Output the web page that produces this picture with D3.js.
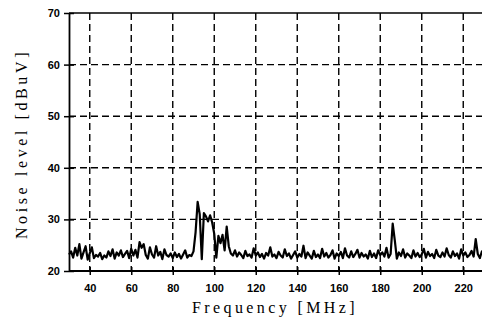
<!DOCTYPE html>
<html>
<head>
<meta charset="utf-8">
<script src="https://cdn.jsdelivr.net/npm/d3@7"></script>
<style>
  html, body { margin: 0; padding: 0; background: #fff; }
  svg { display: block; }
</style>
</head>
<body>
<svg id="chart" width="482" height="323"></svg>
<script>
// spectrum trace, one sample per MHz starting at 30 MHz
const startMHz = 30;
const stepMHz = 1;
const noiseLevel = [
  23.2, 23.8, 22.6, 24.5, 23.0, 25.2, 22.4, 23.6, 24.8, 22.2,
  23.4, 24.6, 22.5, 23.1, 22.8, 23.5, 22.3, 23.0, 22.6, 23.8,
  22.9, 24.2, 22.4, 23.6, 23.0, 24.0, 22.7, 23.3, 23.9, 22.5,
  24.3, 23.0, 24.1, 22.6, 25.6, 24.5, 25.2, 23.1, 22.4, 24.6,
  23.2, 22.6, 24.8, 23.0, 23.7, 22.3, 24.2, 23.1, 22.8, 23.4,
  22.5, 23.6, 22.7, 23.3, 22.4, 23.2, 24.0, 22.6, 23.1, 22.9,
  23.8, 27.5, 33.4, 31.0, 22.3, 31.2, 30.6, 29.6, 30.8, 29.4,
  27.2, 22.6, 26.8, 25.4, 27.0, 24.0, 28.6, 24.8, 23.4, 23.0,
  24.0, 22.8, 23.6, 23.1, 22.5, 23.9, 22.9, 23.2, 22.6, 24.4,
  23.0, 23.6, 22.7, 23.3, 22.4, 23.5, 23.0, 24.6, 22.8, 23.2,
  22.5, 23.7, 23.0, 22.6, 24.2, 22.9, 23.4, 22.4, 23.1, 23.8,
  22.6, 23.3, 22.8, 24.9, 22.5, 23.6, 23.0, 22.4, 23.9, 22.7,
  23.2, 22.5, 24.3, 22.8, 23.5, 22.6, 23.1, 24.0, 22.4, 23.4,
  22.9, 23.7, 22.5, 24.4, 23.0, 22.6, 23.8, 22.7, 23.3, 24.1,
  22.6, 23.5, 22.8, 23.2, 22.4, 23.9, 22.7, 23.4, 22.5, 24.0,
  23.1, 23.6, 22.8, 24.5, 22.6, 23.3, 29.2, 26.0, 22.4, 23.6,
  22.9, 24.2, 22.6, 23.4, 23.0, 22.5, 24.0, 22.8, 23.5, 22.7,
  23.2, 24.3, 22.6, 23.7, 22.9, 23.3, 22.5, 24.1, 23.0, 22.7,
  23.6, 22.8, 24.4, 23.1, 22.6, 23.8, 22.9, 23.4, 22.4, 24.2,
  23.0, 23.6, 22.7, 23.1, 23.9, 22.8, 26.2, 23.3, 22.5, 23.8,
  23.0, 24.4, 22.7, 23.4, 24.0, 23.2, 22.9, 24.1, 23.5, 23.0,
  23.8
];
const xTicks = [40, 60, 80, 100, 120, 140, 160, 180, 200, 220];
const yTicks = [20, 30, 40, 50, 60, 70];

const svg = d3.select('#chart');
const x = d3.scaleLinear().domain([30, 230]).range([69, 484]);
const y = d3.scaleLinear().domain([20, 70]).range([271, 13]);

const g = svg.append('g');

// dashed grid
g.selectAll('line.vgrid')
  .data(xTicks)
  .enter()
  .append('line')
  .attr('x1', d => x(d))
  .attr('x2', d => x(d))
  .attr('y1', y(70))
  .attr('y2', y(20))
  .attr('stroke', '#000')
  .attr('stroke-width', 1.4)
  .attr('stroke-dasharray', '7,4');

g.selectAll('line.hgrid')
  .data(yTicks.filter(d => d > 20 && d < 70))
  .enter()
  .append('line')
  .attr('x1', x(30))
  .attr('x2', 482)
  .attr('y1', d => y(d))
  .attr('y2', d => y(d))
  .attr('stroke', '#000')
  .attr('stroke-width', 1.4)
  .attr('stroke-dasharray', '7,4');

// top frame line
g.append('line')
  .attr('x1', x(30)).attr('x2', 482)
  .attr('y1', y(70)).attr('y2', y(70))
  .attr('stroke', '#000')
  .attr('stroke-width', 1.6);

// axes: cross-shaped ticks, bold labels
const xAxis = d3.axisBottom(x).tickValues(xTicks).tickSize(4).tickSizeOuter(0);
const xg = g.append('g')
  .attr('transform', `translate(0,${y(20)})`)
  .call(xAxis);
xg.select('.domain').attr('d', `M${x(30)},0H482`).attr('stroke-width', 1.8);
xg.selectAll('.tick line').attr('y1', -4).attr('stroke-width', 1.5);
xg.selectAll('.tick text')
  .attr('dy', '1.3em')
  .attr('font-family', 'Liberation Sans, Arial, sans-serif')
  .attr('font-weight', 'bold')
  .attr('font-size', '11px')
  .attr('fill', '#000');

const yAxis = d3.axisLeft(y).tickValues(yTicks).tickSize(5).tickSizeOuter(0);
const yg = g.append('g')
  .attr('transform', `translate(${x(30)},0)`)
  .call(yAxis);
yg.select('.domain').attr('stroke-width', 1.8);
yg.selectAll('.tick line').attr('x1', 5).attr('stroke-width', 1.5);
yg.selectAll('.tick text')
  .attr('x', -9)
  .attr('font-family', 'Liberation Sans, Arial, sans-serif')
  .attr('font-weight', 'bold')
  .attr('font-size', '11px')
  .attr('fill', '#000');

// noise trace
const line = d3.line()
  .x((d, i) => x(startMHz + i * stepMHz))
  .y(d => y(d));

g.append('path')
  .datum(noiseLevel)
  .attr('d', line)
  .attr('fill', 'none')
  .attr('stroke', '#000')
  .attr('stroke-width', 2.2)
  .attr('stroke-linejoin', 'round');

// axis titles
svg.append('text')
  .attr('x', 275)
  .attr('y', 313)
  .attr('text-anchor', 'middle')
  .attr('font-family', 'Liberation Serif, Times New Roman, serif')
  .attr('font-size', '16px')
  .attr('letter-spacing', '3.4px')
  .attr('fill', '#000')
  .text('Frequency [MHz]');

svg.append('text')
  .attr('transform', 'translate(27,144) rotate(-90)')
  .attr('text-anchor', 'middle')
  .attr('font-family', 'Liberation Serif, Times New Roman, serif')
  .attr('font-size', '16px')
  .attr('letter-spacing', '3.6px')
  .attr('fill', '#000')
  .text('Noise level [dBuV]');
</script>
</body>
</html>
